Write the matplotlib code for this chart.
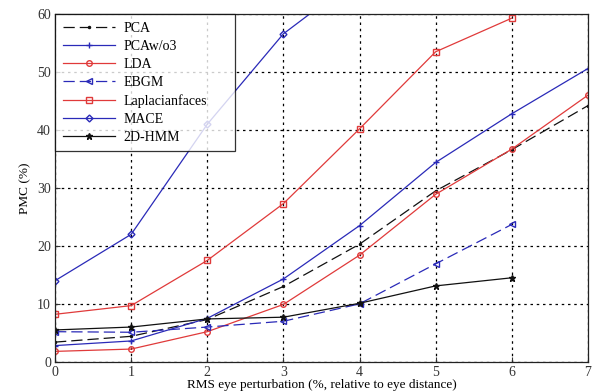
import matplotlib
matplotlib.use("Agg")
import matplotlib.pyplot as plt

plt.rcParams['font.family'] = ['Liberation Serif', 'DejaVu Serif']

x_all = [0, 1, 2, 3, 4, 5, 6, 7]
pca = [3.4, 4.4, 7.3, 13.0, 20.3, 29.5, 36.6, 44.2]
pcawo3 = [2.8, 3.6, 7.5, 14.3, 23.5, 34.4, 42.8, 50.6]
lda = [1.8, 2.2, 5.2, 9.9, 18.4, 28.9, 36.7, 46.0]
ebgm = [5.2, 5.1, 6.0, 7.0, 10.0, 16.9, 23.7]
laplacian = [8.2, 9.7, 17.5, 27.3, 40.2, 53.5, 59.3]
mace = [14.0, 22.0, 41.0, 56.6, 66.5]
hmm2d = [5.5, 6.0, 7.4, 7.7, 10.1, 13.1, 14.5]

xticks = [0, 1, 2, 3, 4, 5, 6, 7]
yticks = [0, 10, 20, 30, 40, 50, 60]

fig = plt.figure(figsize=(5.92, 3.92), dpi=100)
ax = fig.add_axes([0.093, 0.077, 0.900, 0.887])

blue = '#2a2ab8'
red = '#e03a3a'
black = '#111111'

ax.plot(x_all[:len(pca)], pca, color=black, ls=(0, (9, 4)), lw=0.9, marker='.', ms=3, label='PCA')
ax.plot(x_all[:len(pcawo3)], pcawo3, color=blue, ls='-', lw=0.9, marker='+', ms=5, label='PCAw/o3')
ax.plot(x_all[:len(lda)], lda, color=red, ls='-', lw=0.9, marker='o', ms=4, mfc='none', label='LDA')
ax.plot(x_all[:len(ebgm)], ebgm, color=blue, ls=(0, (9, 4)), lw=0.9, marker='<', ms=4, mfc='none', label='EBGM')
ax.plot(x_all[:len(laplacian)], laplacian, color=red, ls='-', lw=0.9, marker='s', ms=4.5, mfc='none', label='Laplacianfaces')
ax.plot(x_all[:len(mace)], mace, color=blue, ls='-', lw=0.9, marker='D', ms=3.5, mfc='none', label='MACE')
ax.plot(x_all[:len(hmm2d)], hmm2d, color=black, ls='-', lw=0.9, marker='*', ms=4.5, label='2D-HMM')

ax.set_xlim(0, 7)
ax.set_ylim(0, 60)
ax.set_xticks(xticks)
ax.set_yticks(yticks)
ax.grid(True, color='black', ls=(0, (2, 3)), lw=0.9)
ax.tick_params(direction='in', labelsize=10, colors='#333333', pad=3)
for s in ax.spines.values():
    s.set_color('#222222')
    s.set_linewidth(0.9)

ax.set_ylabel('PMC (%)', fontsize=9.5, labelpad=4)
ax.set_xlabel('RMS eye perturbation (%, relative to eye distance)', fontsize=9.5, labelpad=0)

leg = ax.legend(loc='upper left', bbox_to_anchor=(0.0, 0.0, 0.338, 1.0), mode='expand',
                fontsize=10, frameon=True, fancybox=False,
                edgecolor='black', borderaxespad=0.0, handlelength=3.8,
                handletextpad=0.6, labelspacing=0.36, borderpad=0.55)
leg.get_frame().set_linewidth(0.9)

fig.savefig('out.png', dpi=100)
